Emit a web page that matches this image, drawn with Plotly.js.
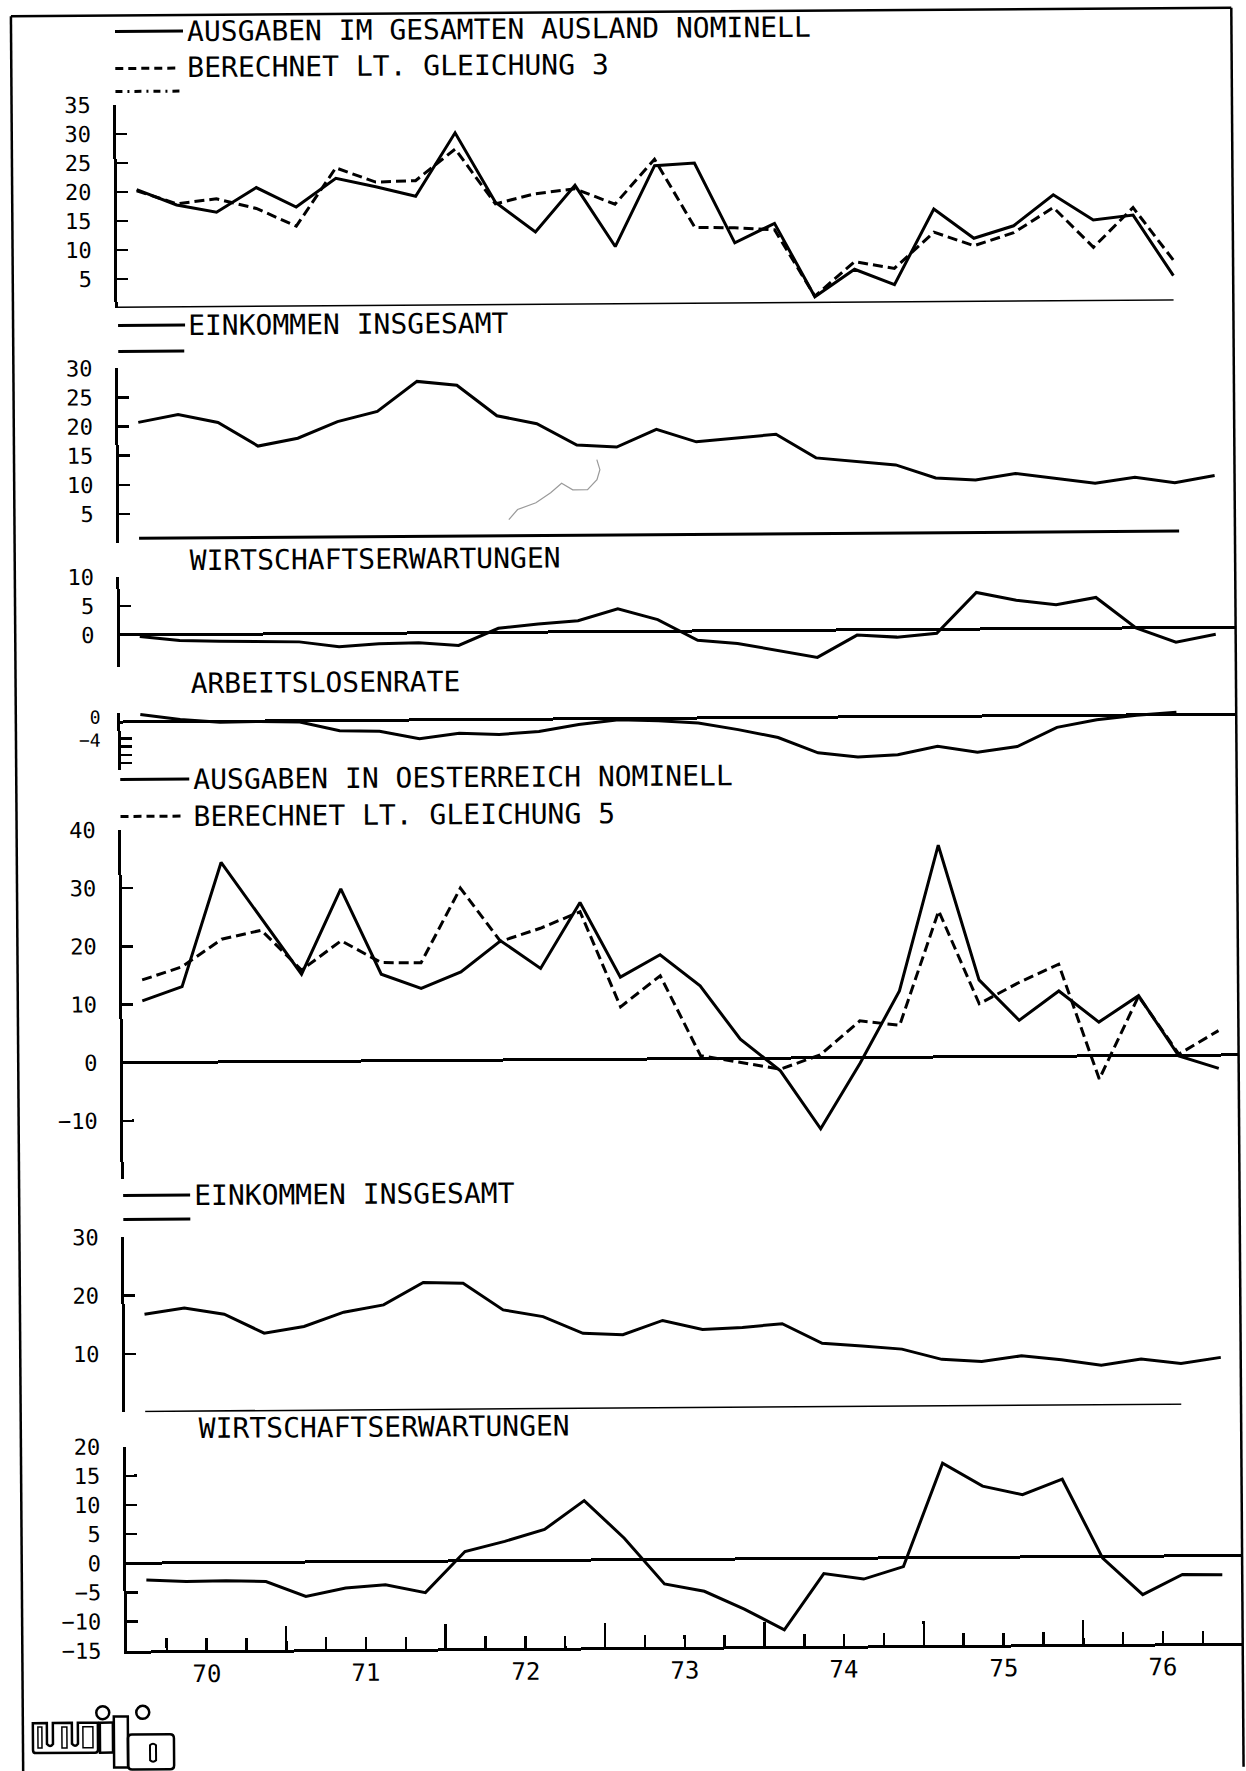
<!DOCTYPE html>
<html>
<head>
<meta charset="utf-8">
<script src="https://cdn.plot.ly/plotly-3.0.1.min.js"></script>
<style>
  html, body { margin: 0; padding: 0; background: #fff; overflow: hidden; }
  #chart { width: 1246px; height: 1771px; transform: rotate(-0.4deg); transform-origin: 623px 885.5px; }
</style>
</head>
<body>
<div id="chart"></div>
<script>
// Quarterly observations, 1970 I - 1976 IV
const quarters = [
  '1970-Q1','1970-Q2','1970-Q3','1970-Q4',
  '1971-Q1','1971-Q2','1971-Q3','1971-Q4',
  '1972-Q1','1972-Q2','1972-Q3','1972-Q4',
  '1973-Q1','1973-Q2','1973-Q3','1973-Q4',
  '1974-Q1','1974-Q2','1974-Q3','1974-Q4',
  '1975-Q1','1975-Q2','1975-Q3','1975-Q4',
  '1976-Q1','1976-Q2','1976-Q3','1976-Q4'
];
const years = [1970, 1971, 1972, 1973, 1974, 1975, 1976];
const yearLabels = ['70', '71', '72', '73', '74', '75', '76'];

// Ausgaben im gesamten Ausland, nominell (Veränderung in %)
const ausgabenAusland = [20.4, 17.7, 16.4, 20.6, 17.2, 22.1, 20.6, 18.9, 29.8, 17.8, 12.6, 20.6, 10.0, 23.9,
                         24.3, 10.5, 13.8, 1.1, 5.8, 3.1, 16.1, 11.0, 13.1, 18.4, 14.0, 14.8, 4.3];
// berechnet lt. Gleichung 3
const berechnetGl3 = [20.2, 17.9, 18.7, 17.0, 13.9, 23.9, 21.4, 21.6, 27.0, 17.5, 19.2, 20.0, 17.3, 25.0,
                      13.2, 13.1, 12.7, 1.2, 7.1, 5.9, 12.1, 9.7, 11.9, 16.2, 9.3, 16.1, 7.0];
// Einkommen insgesamt (oberer Block)
const einkommenA = [20.7, 22.0, 20.6, 16.5, 17.8, 20.6, 22.3, 27.4, 26.7, 21.4, 20.0, 16.3, 15.9, 18.9,
                    16.7, 17.3, 17.9, 13.8, 13.2, 12.5, 10.2, 9.8, 10.9, 10.0, 9.1, 10.1, 9.1, 10.3];
// Wirtschaftserwartungen (oberer Block)
const erwartungenA = [-0.3, -1.0, -1.2, -1.3, -1.4, -2.3, -1.8, -1.7, -2.2, 0.7, 1.4, 1.9, 3.9, 2.0,
                      -1.6, -2.2, -3.5, -4.7, -0.9, -1.3, -0.7, 6.3, 4.9, 4.1, 5.3, 0.0, -2.5, -1.2];
// Arbeitslosenrate
const arbeitslosenrate = [1.8, 0.5, -0.2, -0.1, -0.3, -2.5, -2.7, -4.6, -3.3, -3.7, -3.0, -1.4, -0.3, -0.6,
                          -1.2, -2.9, -4.9, -8.7, -9.8, -9.3, -7.3, -8.8, -7.5, -2.9, -1.1, -0.1, 0.6];
// Ausgaben in Österreich, nominell
const ausgabenOesterreich = [10.6, 13.0, 34.3, 24.6, 15.0, 29.6, 14.9, 12.4, 15.2, 20.5, 15.7, 27.0, 14.1, 17.9,
                             12.5, 3.3, -2.2, -12.2, -1.0, 11.4, 36.4, 13.2, 6.2, 11.2, 5.8, 10.3, -0.1, -2.3];
// berechnet lt. Gleichung 5
const berechnetGl5 = [14.2, 16.4, 21.1, 22.6, 15.7, 20.7, 16.9, 16.8, 29.6, 20.4, 22.6, 25.4, 9.0, 14.3,
                      0.5, -0.7, -1.9, 0.5, 6.3, 5.5, 25.1, 9.1, 12.7, 15.8, -4.0, 10.2, 0.2, 4.2];
// Einkommen insgesamt (unterer Block)
const einkommenB = [16.8, 17.8, 16.7, 13.4, 14.5, 16.9, 18.1, 21.9, 21.7, 17.1, 15.9, 13.0, 12.7, 15.1,
                    13.5, 13.8, 14.4, 11.0, 10.5, 9.9, 8.1, 7.7, 8.6, 7.9, 6.9, 7.9, 7.1, 8.1];
// Wirtschaftserwartungen (unterer Block)
const erwartungenB = [-2.9, -3.2, -3.1, -3.3, -5.9, -4.5, -4.0, -5.4, 1.6, 3.3, 5.3, 10.2, 3.7, -4.2,
                      -5.5, -8.6, -12.2, -2.6, -3.6, -1.5, 16.2, 12.2, 10.7, 13.3, -0.3, -6.6, -3.2, -3.3];

// ---- geometry helpers (sheet pixels) ----
const W = 1246, H = 1771;
const px = x => x / W;
const py = y => 1 - y / H;
const dom = (top, bottom) => [py(bottom), py(top)];
const qx = label => { const [y, q] = label.split('-Q'); return +y + (+q - 0.5) / 4; };
const xs = n => quarters.slice(0, n).map(qx);
const pathPx = s => s.replace(/(-?[\d.]+),(-?[\d.]+)/g, (m, a, b) => `${px(+a)},${py(+b)}`);

const INK = '#000';
const MONO = 'DejaVu Sans Mono';
const DASH = '10px,5px';

function series(values, yaxis, dashed) {
  return {
    type: 'scatter', mode: 'lines', x: xs(values.length), y: values,
    xaxis: 'x', yaxis: yaxis, hoverinfo: 'skip',
    line: { color: INK, width: 3, dash: dashed ? DASH : 'solid' }
  };
}

const data = [
  series(ausgabenAusland, 'y', false),
  series(berechnetGl3, 'y', true),
  series(einkommenA, 'y2', false),
  series(erwartungenA, 'y3', false),
  series(arbeitslosenrate, 'y4', false),
  series(ausgabenOesterreich, 'y5', false),
  series(berechnetGl5, 'y5', true),
  series(einkommenB, 'y6', false),
  series(erwartungenB, 'y7', false)
];

function yAxis(top, bottom, range, tickvals, zero, labels) {
  return {
    domain: dom(top, bottom), range: range, anchor: 'x',
    showline: true, linecolor: INK, linewidth: 3,
    ticks: 'inside', ticklen: 11, tickwidth: 2.5, tickcolor: INK,
    tickvals: tickvals, ticklabelstandoff: 18, showticklabels: labels !== false,
    tickfont: { family: MONO, size: 22, color: INK },
    showgrid: false, zeroline: !!zero, zerolinecolor: INK, zerolinewidth: 3,
    fixedrange: true
  };
}

// quarter boundaries inside each year
const quarterTicks = [];
years.forEach(y => [0.25, 0.5, 0.75].forEach(f => quarterTicks.push(y + f)));

const layout = {
  width: W, height: H,
  margin: { l: 0, r: 0, t: 0, b: 0 },
  paper_bgcolor: '#fff', plot_bgcolor: 'rgba(0,0,0,0)',
  showlegend: false,
  font: { family: MONO, color: INK },
  xaxis: {
    domain: [px(121.6), px(1237.4)], range: [1970, 1977], anchor: 'y7',
    showline: true, linecolor: INK, linewidth: 3,
    ticks: 'inside', ticklen: 24, tickwidth: 2.5, tickcolor: INK,
    tickvals: years.slice(1), showticklabels: false,
    minor: { tickvals: quarterTicks, ticks: 'inside', ticklen: 12, tickwidth: 2.5, tickcolor: INK, showgrid: false },
    showgrid: false, zeroline: false, fixedrange: true
  },
  yaxis:  yAxis(101.5, 304.5, [0, 35], [5, 10, 15, 20, 25, 30, 35]),
  yaxis2: yAxis(364.8, 539.7, [0, 30], [5, 10, 15, 20, 25, 30]),
  yaxis3: yAxis(573.5, 663.4, [-5.5, 10], [0, 5, 10], true),
  yaxis4: yAxis(709.5, 766.5, [-11.7, 2.2], [2, -4, -6, -8, -10], true, false),
  yaxis5: yAxis(826.5, 1175.5, [-20, 40], [-10, 0, 10, 20, 30, 40], true),
  yaxis6: yAxis(1233.8, 1408.8, [0, 30], [10, 20, 30]),
  yaxis7: yAxis(1443.2, 1647.2, [-15, 20], [-15, -10, -5, 0, 5, 10, 15, 20], true)
};

// ---- headings and labels ----
function heading(text, x, y) {
  return {
    xref: 'paper', yref: 'paper', x: px(x), y: py(y), xanchor: 'left', yanchor: 'middle',
    text: text, showarrow: false, font: { family: MONO, size: 28, color: INK }
  };
}
const annotations = [
  heading('AUSGABEN IM GESAMTEN AUSLAND NOMINELL', 191, 28),
  heading('BERECHNET LT. GLEICHUNG 3', 191, 65),
  heading('EINKOMMEN INSGESAMT', 190, 322),
  heading('WIRTSCHAFTSERWARTUNGEN', 190, 557),
  heading('ARBEITSLOSENRATE', 190, 680),
  heading('AUSGABEN IN OESTERREICH NOMINELL', 192, 776),
  heading('BERECHNET LT. GLEICHUNG 5', 192, 813),
  heading('EINKOMMEN INSGESAMT', 190, 1192),
  heading('WIRTSCHAFTSERWARTUNGEN', 193, 1425)
];
// year names centred in each year span under the bottom axis
years.forEach((y, i) => annotations.push({
  xref: 'x', yref: 'paper', x: y + 0.5, y: py(1671), xanchor: 'center', yanchor: 'middle',
  text: yearLabels[i], showarrow: false, font: { family: MONO, size: 24, color: INK }
}));
// the unemployment panel only names two of its levels
[[0, '0', 5], [-4, '\u22124', -2]].forEach(([v, t, shift]) => annotations.push({
  xref: 'paper', yref: 'y4', x: px(104), y: v, yshift: shift, xanchor: 'right', yanchor: 'middle',
  text: t, showarrow: false, font: { family: MONO, size: 18, color: INK }
}));
layout.annotations = annotations;

// ---- rules, key strokes, frame, logo ----
function hline(x0, x1, y, width, dash) {
  return { type: 'line', xref: 'paper', yref: 'paper', x0: px(x0), x1: px(x1), y0: py(y), y1: py(y),
           line: { color: INK, width: width || 3, dash: dash || 'solid' } };
}
function vline(x, y0, y1, width) {
  return { type: 'line', xref: 'paper', yref: 'paper', x0: px(x), x1: px(x), y0: py(y0), y1: py(y1),
           line: { color: INK, width: width || 2.5 } };
}
function outline(d, width, color) {
  return { type: 'path', xref: 'paper', yref: 'paper', path: pathPx(d),
           line: { color: color || INK, width: width || 2.5 } };
}
function ring(cx, cy, r) {
  return { type: 'circle', xref: 'paper', yref: 'paper',
           x0: px(cx - r), x1: px(cx + r), y0: py(cy + r), y1: py(cy - r),
           line: { color: INK, width: 2.5 } };
}

const lastA = qx(quarters[ausgabenAusland.length - 1]);
const firstQ = qx(quarters[0]);

layout.shapes = [
  // sheet frame
  vline(17, 12, 1800, 2.5),
  vline(1237.4, 12, 1800, 2.5),
  hline(17, 1237.4, 12, 2.5),

  // key strokes beside the headings
  hline(121, 189, 28),
  hline(121, 182, 65, 3, '8px,5px'),
  hline(121, 186, 88, 3, '7px,5px,2px,5px'),
  hline(122, 189, 322),
  hline(122, 188, 348),
  hline(121, 190, 776),
  hline(121, 183, 813, 3, '8px,5px'),
  hline(121, 188, 1192),
  hline(121, 188, 1216),

  // base rules of the upper panels
  { type: 'line', xref: 'x', yref: 'y', x0: 1970, x1: lastA, y0: 0, y1: 0, line: { color: INK, width: 3 } },
  { type: 'line', xref: 'x', yref: 'paper', x0: firstQ, x1: 1976.65, y0: py(535), y1: py(535), line: { color: INK, width: 3 } },
  { type: 'line', xref: 'x', yref: 'y6', x0: firstQ, x1: lastA, y0: 0, y1: 0, line: { color: INK, width: 3 } },

  // pencil mark on the sheet
  outline('M511.4,518.8 L520.2,508.8 L538.6,502.2 L553.4,492.2 L564.4,482.8 L575.5,489.5 L590.3,489.5 L599.8,479.5 L602.8,469.5 L599.8,459.5', 1.2, '#9a9a9a'),

  // wifo logo
  outline('M27,1719 L41,1719 L41,1740 Q44,1744 47,1740 L47,1719 L66,1719 L66,1740 Q69,1744 72,1740 L72,1719 L92,1719 L92,1746 Q92,1749 89,1749 L30,1749 Q27,1749 27,1746 Z'),
  outline('M32,1723 L36,1723 L36,1744 L32,1744 Z', 1.5),
  outline('M56,1723 L61,1723 L61,1744 L56,1744 Z', 1.5),
  outline('M77,1723 L87,1723 L87,1744 L77,1744 Z', 1.5),
  outline('M94,1719 L107,1719 L107,1749 L94,1749 Z'),
  ring(97, 1709, 6.5),
  outline('M108,1713 L122,1713 L122,1764 L108,1764 Z'),
  ring(137, 1709, 6.5),
  outline('M126,1731 L164,1731 Q168,1731 168,1735 L168,1762 Q168,1766 164,1766 L126,1766 Q122,1766 122,1762 L122,1735 Q122,1731 126,1731 Z'),
  outline('M144,1742 Q147,1739 150,1742 L150,1757 Q147,1760 144,1757 Z', 2)
];

Plotly.newPlot('chart', data, layout, { staticPlot: true, displayModeBar: false });
</script>
</body>
</html>
